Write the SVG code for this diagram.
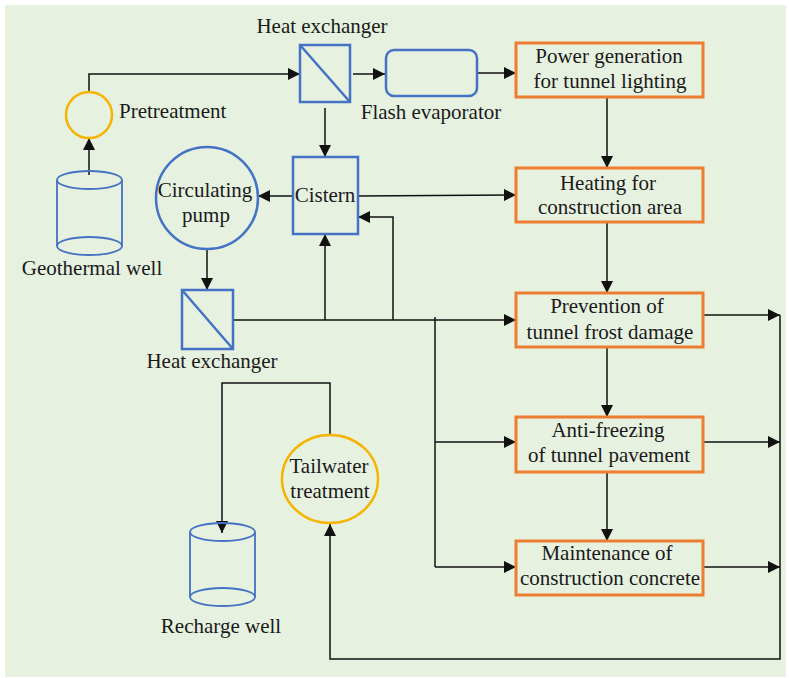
<svg xmlns="http://www.w3.org/2000/svg" width="789" height="678" viewBox="0 0 789 678">
<defs>
<marker id="ah" markerUnits="userSpaceOnUse" markerWidth="12" markerHeight="12" refX="12" refY="6" orient="auto">
<path d="M0,0 L12,6 L0,12 z" fill="#111"/>
</marker>
<style>
text{font-family:'Liberation Serif','DejaVu Serif',serif;font-size:21px;fill:#1a1a1a}
.c{text-anchor:middle}
.blue{fill:none;stroke:#4472C4;stroke-width:2.5}
.thin{fill:none;stroke:#4472C4;stroke-width:1.8}
.orange{fill:none;stroke:#ED7D31;stroke-width:3}
.gold{fill:none;stroke:#F4B400;stroke-width:2.5}
.ln{fill:none;stroke:#111;stroke-width:1.5}
.arr{marker-end:url(#ah)}
</style>
</defs>
<rect x="0" y="0" width="789" height="678" fill="#ffffff"/>
<rect x="5" y="5" width="781" height="672" fill="#E7F1E0"/>

<g id="connectors">
<path class="ln arr" d="M89,175 L89,138"/>
<path class="ln arr" d="M89,92 L89,74 L300,74"/>
<path class="ln arr" d="M353,74 L385,74"/>
<path class="ln arr" d="M477,73 L516,73"/>
<path class="ln arr" d="M325,108 L325,157"/>
<path class="ln arr" d="M293,196 L258,196"/>
<path class="ln arr" d="M358,196 L516,195"/>
<path class="ln arr" d="M607,97 L607,168"/>
<path class="ln arr" d="M607,222 L607,293"/>
<path class="ln arr" d="M607,347 L607,417"/>
<path class="ln arr" d="M607,472 L607,541"/>
<path class="ln arr" d="M207,249 L207,290"/>
<path class="ln arr" d="M233,320 L516,320"/>
<path class="ln arr" d="M325,320 L325,234"/>
<path class="ln arr" d="M393,320 L393,217 L358,217"/>
<path class="ln" d="M435,317 L435,567"/>
<path class="ln arr" d="M435,442 L516,442"/>
<path class="ln arr" d="M435,567 L516,567"/>
<path class="ln arr" d="M703,315 L780,315"/>
<path class="ln arr" d="M703,442 L780,442"/>
<path class="ln arr" d="M703,567 L780,567"/>
<path class="ln arr" d="M780,315 L780,659 L330,659 L330,524"/>
<path class="ln arr" d="M330,435 L330,383 L222,383 L222,533"/>
</g>

<g id="geothermal-well">
<path class="thin" d="M57,180 L57,246 M122,180 L122,246"/>
<ellipse class="thin" cx="89.5" cy="180" rx="32.5" ry="9"/>
<ellipse class="thin" cx="89.5" cy="246" rx="32.5" ry="9"/>
<text class="c" x="92" y="275">Geothermal well</text>
</g>

<g id="pretreatment">
<circle class="gold" cx="89" cy="115" r="23"/>
<text x="119" y="118">Pretreatment</text>
</g>

<g id="heat-exchanger-top">
<rect class="blue" x="300" y="45" width="50" height="57"/>
<path class="blue" d="M300,45 L350,102"/>
<text class="c" x="322" y="33">Heat exchanger</text>
</g>

<g id="flash-evaporator">
<rect class="blue" x="386" y="50" width="91" height="46" rx="8"/>
<text class="c" x="431" y="119">Flash evaporator</text>
</g>

<g id="cistern">
<rect class="blue" x="293" y="157" width="65" height="77"/>
<text class="c" x="325" y="202">Cistern</text>
</g>

<g id="circulating-pump">
<circle class="blue" cx="207" cy="198" r="51"/>
<text class="c" x="205" y="197">Circulating</text>
<text class="c" x="206" y="222">pump</text>
</g>

<g id="heat-exchanger-bottom">
<rect class="blue" x="182" y="290" width="51" height="59"/>
<path class="blue" d="M182,290 L233,349"/>
<text class="c" x="212" y="368">Heat exchanger</text>
</g>

<g id="tailwater-treatment">
<ellipse class="gold" cx="330" cy="479" rx="48" ry="44"/>
<text class="c" x="329" y="473">Tailwater</text>
<text class="c" x="330" y="498">treatment</text>
</g>

<g id="recharge-well">
<path class="thin" d="M190,532 L190,597 M255,532 L255,597"/>
<ellipse class="thin" cx="222.5" cy="532" rx="32.5" ry="9"/>
<ellipse class="thin" cx="222.5" cy="597" rx="32.5" ry="9"/>
<text class="c" x="221" y="633">Recharge well</text>
</g>

<g id="power-generation">
<rect class="orange" x="516" y="43" width="187" height="54"/>
<text class="c" x="609" y="63">Power generation</text>
<text class="c" x="610" y="88">for tunnel lighting</text>
</g>

<g id="heating">
<rect class="orange" x="516" y="168" width="187" height="54"/>
<text class="c" x="608" y="190">Heating for</text>
<text class="c" x="610" y="214">construction area</text>
</g>

<g id="prevention">
<rect class="orange" x="516" y="293" width="187" height="54"/>
<text class="c" x="607" y="313">Prevention of</text>
<text class="c" x="610" y="339">tunnel frost damage</text>
</g>

<g id="anti-freezing">
<rect class="orange" x="516" y="417" width="187" height="55"/>
<text class="c" x="608" y="437">Anti-freezing</text>
<text class="c" x="609" y="462">of tunnel pavement</text>
</g>

<g id="maintenance">
<rect class="orange" x="516" y="541" width="187" height="54"/>
<text class="c" x="607" y="560">Maintenance of</text>
<text class="c" x="610" y="585">construction concrete</text>
</g>
</svg>
